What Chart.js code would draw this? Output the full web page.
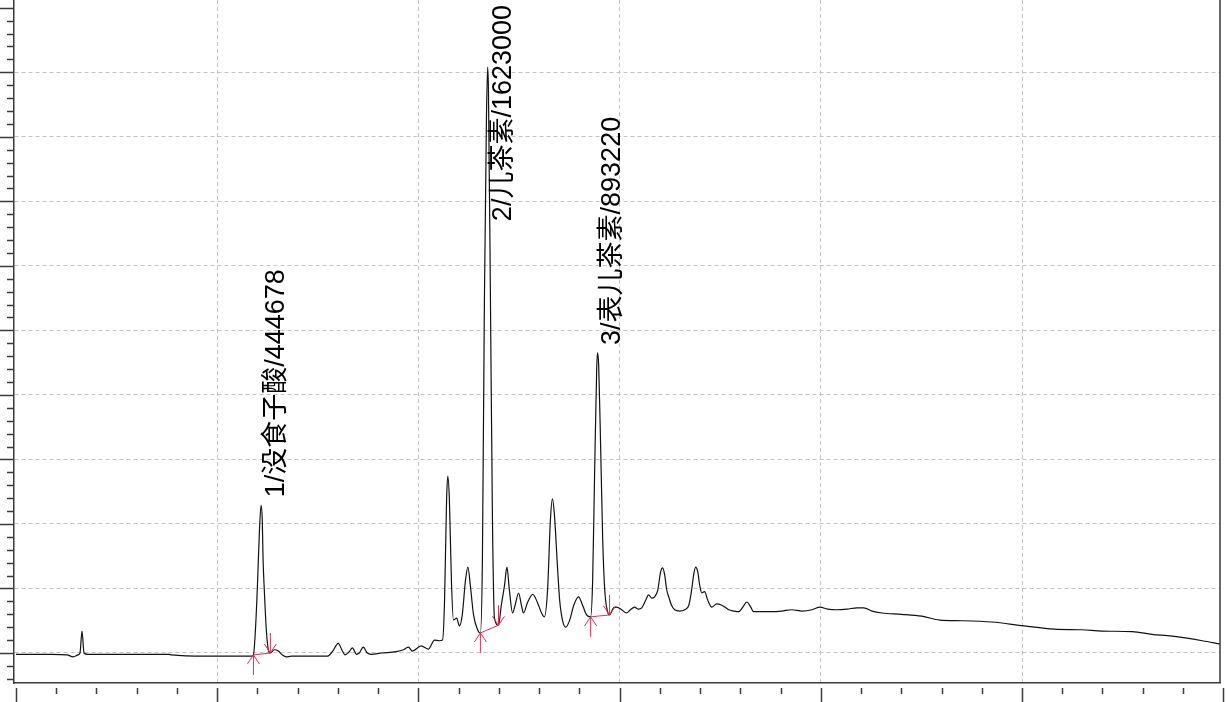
<!DOCTYPE html>
<html>
<head>
<meta charset="utf-8">
<script src="https://cdn.jsdelivr.net/npm/chart.js@4.4.0/dist/chart.umd.min.js"></script>
<style>
    html, body { margin: 0; padding: 0; background: #fff; }
</style>
</head>
<body>
<canvas id="chromatogram" width="1226" height="702"></canvas>
<script>
// --- Data (time in min, signal in detector units) ---
const retentionTimes = [
    0, 0.87, 1.27, 1.42, 1.54, 1.59, 1.64, 1.69, 1.77, 2.61, 3.81, 3.86, 4.73, 5.85,
    5.90, 5.95, 6.00, 6.05, 6.09, 6.12, 6.14, 6.17, 6.22, 6.27, 6.32, 6.42, 6.52, 6.62, 6.72, 6.84, 7.74,
    7.86, 8.01, 8.11, 8.18, 8.28, 8.36, 8.46, 8.53, 8.63, 8.73, 8.83, 9.08, 9.45, 9.63, 9.75, 9.85, 10.07, 10.25, 10.40, 10.52, 10.60,
    10.65, 10.70, 10.73, 10.77, 10.82, 10.87, 10.95, 11.02, 11.09, 11.17, 11.23, 11.29, 11.37, 11.47, 11.54,
    11.59, 11.64, 11.69, 11.72, 11.74, 11.79, 11.84, 11.89, 11.99, 12.06, 12.14, 12.20, 12.26, 12.34, 12.41, 12.49, 12.56, 12.61,
    12.71, 12.84, 12.96, 13.06, 13.13, 13.21, 13.28, 13.33, 13.38, 13.46, 13.51, 13.58, 13.66, 13.76, 13.86, 13.98, 14.08, 14.18, 14.28,
    14.33, 14.38, 14.43, 14.45, 14.48, 14.53, 14.58, 14.63, 14.70, 14.75, 14.85, 14.93, 15.05, 15.17, 15.27, 15.37, 15.47, 15.55,
    15.65, 15.72, 15.80, 15.87, 15.95, 16.02, 16.07, 16.12, 16.17, 16.22, 16.29, 16.37, 16.49, 16.62, 16.72, 16.79, 16.84, 16.89,
    16.94, 16.99, 17.04, 17.11, 17.19, 17.29, 17.41, 17.54, 17.64, 17.71, 17.84, 17.96, 18.06, 18.16, 18.26, 18.33, 18.53, 18.78,
    19.03, 19.28, 19.53, 19.78, 19.98, 20.17, 20.40, 20.65, 20.90, 21.07, 21.27, 21.52, 22.01, 22.51, 22.96, 23.51, 24.25, 25.05,
    25.80, 26.49, 26.99, 27.74, 28.23, 28.73, 29.48, 29.92
];
const signal = [
    -2, -2, -3, -6, -3, 0, 34, 0, -2, -2, -2, -3, -5, -5,
    -3, 36, 105, 191, 229, 205, 144, 98, 36, 5, 0, 5, 3, -3, -6, -5, -5,
    2, 15, 3, -3, 2, 8, -2, 0, 9, 0, -2, 0, 2, 5, 9, 3, 11, 6, 20, 19, 20,
    82, 237, 274, 237, 113, 51, 54, 42, 59, 113, 133, 105, 59, 36, 31,
    144, 547, 826, 908, 873, 547, 206, 54, 43, 74, 105, 133, 98, 62, 76, 93, 74, 62,
    78, 91, 78, 62, 56, 98, 206, 239, 214, 129, 82, 51, 40, 51, 74, 87, 74, 59, 56,
    113, 284, 439, 465, 446, 315, 175, 98, 64, 59, 70, 71, 67, 62, 67, 71, 68, 70,
    82, 90, 85, 87, 98, 126, 132, 121, 98, 87, 74, 67, 65, 67, 74, 98, 121, 133,
    126, 105, 93, 95, 82, 71, 76, 74, 70, 67, 65, 64, 71, 79, 71, 64, 64, 64,
    65, 67, 65, 67, 71, 68, 67, 68, 70, 70, 65, 62, 60, 57, 51, 50, 48, 42,
    37, 36, 34, 33, 29, 26, 19, 14
];

// integrated peaks
const peakLabels = ['1/没食子酸/444678', '2/儿茶素/1623000', '3/表儿茶素/893220'];
const peakApexTimes = [6.09, 11.72, 14.45];
const peakStartTimes = [5.90, 11.54, 14.28];
const peakEndTimes = [6.32, 11.99, 14.75];

// axis ranges / tick steps
const timeMin = -0.05, timeMax = 29.92, timeTickEnd = 30;
const signalMin = -46.5, signalMax = 1012;
const xMajorStep = 5, xMinorStep = 1;
const yMajorStep = 100, yMinorStep = 20;

const AXIS_COLOR = '#3a3a3a';
const GRID_COLOR = '#c4c4c4';
const MARK_COLOR = '#d8304e';

function signalAt(t) {
    const i = retentionTimes.indexOf(t);
    return signal[i];
}

function isMultiple(v, step) {
    const r = Math.abs(v / step - Math.round(v / step));
    return r < 1e-6;
}

// --- tick marks outside the plot (major + minor) and right frame ---
const axisTicks = {
    id: 'axisTicks',
    afterDraw(chart) {
        const { ctx, chartArea: a, scales } = chart;
        ctx.save();
        ctx.strokeStyle = AXIS_COLOR;
        ctx.lineWidth = 1.5;
        ctx.beginPath();
        for (let t = 0; t <= timeTickEnd + 1e-9; t += xMinorStep) {
            const px = Math.round(scales.x.getPixelForValue(t)) + 0.5;
            const major = isMultiple(t, xMajorStep);
            ctx.moveTo(px, a.bottom + 5);
            ctx.lineTo(px, a.bottom + (major ? 19 : 11));
        }
        const first = Math.ceil(signalMin / yMinorStep) * yMinorStep;
        for (let v = first; v <= signalMax; v += yMinorStep) {
            const py = Math.round(scales.y.getPixelForValue(v)) + 0.5;
            const major = isMultiple(v, yMajorStep);
            ctx.moveTo(a.left - (major ? 14 : 7), py);
            ctx.lineTo(a.left, py);
        }
        // right frame
        ctx.moveTo(a.right, a.top);
        ctx.lineTo(a.right, a.bottom);
        ctx.stroke();
        ctx.restore();
    }
};

// --- integration marks and peak names ---
const peakMarks = {
    id: 'peakMarks',
    afterDatasetsDraw(chart) {
        const { ctx, chartArea: a, scales } = chart;
        const x = scales.x, y = scales.y;
        ctx.save();
        ctx.strokeStyle = MARK_COLOR;
        ctx.lineWidth = 1;
        peakStartTimes.forEach((ts, i) => {
            const te = peakEndTimes[i];
            const sx = x.getPixelForValue(ts), sy = y.getPixelForValue(signalAt(ts));
            const ex = x.getPixelForValue(te), ey = y.getPixelForValue(signalAt(te));
            ctx.beginPath();
            // baseline drop
            ctx.moveTo(sx, sy); ctx.lineTo(ex, ey);
            // start: arrow pointing up from below
            ctx.moveTo(sx, sy); ctx.lineTo(sx, sy + 20);
            ctx.moveTo(sx, sy); ctx.lineTo(sx - 6, sy + 9);
            ctx.moveTo(sx, sy); ctx.lineTo(sx + 6, sy + 9);
            // end: arrow pointing down from above
            ctx.moveTo(ex, ey); ctx.lineTo(ex, ey - 20);
            ctx.moveTo(ex, ey); ctx.lineTo(ex - 6, ey - 9);
            ctx.moveTo(ex, ey); ctx.lineTo(ex + 6, ey - 9);
            ctx.stroke();
        });

        ctx.fillStyle = '#000';
        ctx.font = '27px "Liberation Sans", Arial, "Noto Sans CJK SC", sans-serif';
        ctx.textAlign = 'left';
        ctx.textBaseline = 'top';
        peakLabels.forEach((label, i) => {
            const t = peakApexTimes[i];
            const px = x.getPixelForValue(t);
            const py = y.getPixelForValue(signalAt(t));
            const w = ctx.measureText(label).width;
            const start = Math.max(py - 8, a.top + 5 + w);
            ctx.save();
            ctx.translate(px + 2, start);
            ctx.rotate(-Math.PI / 2);
            ctx.fillText(label, 0, 0);
            ctx.restore();
        });
        ctx.restore();
    }
};

const points = retentionTimes.map((t, i) => ({ x: t, y: signal[i] }));

new Chart(document.getElementById('chromatogram'), {
    type: 'line',
    data: {
        datasets: [{
            data: points,
            borderColor: '#111',
            borderWidth: 1.2,
            pointRadius: 0,
            cubicInterpolationMode: 'monotone',
            fill: false
        }]
    },
    options: {
        responsive: false,
        animation: false,
        devicePixelRatio: 1,
        layout: { padding: { left: 14, right: 6, top: 0, bottom: 19 } },
        plugins: { legend: { display: false }, tooltip: { enabled: false } },
        scales: {
            x: {
                type: 'linear',
                min: timeMin,
                max: timeMax,
                ticks: { display: false, stepSize: xMajorStep },
                grid: {
                    drawTicks: false,
                    lineWidth: 1,
                    color: (c) => (c.tick && isMultiple(c.tick.value, xMajorStep)) ? GRID_COLOR : 'rgba(0,0,0,0)'
                },
                border: { display: true, color: AXIS_COLOR, width: 1.5, dash: [4, 3] }
            },
            y: {
                type: 'linear',
                min: signalMin,
                max: signalMax,
                ticks: { display: false, stepSize: yMajorStep },
                grid: {
                    drawTicks: false,
                    lineWidth: 1,
                    color: (c) => (c.tick && isMultiple(c.tick.value, yMajorStep)) ? GRID_COLOR : 'rgba(0,0,0,0)'
                },
                border: { display: true, color: AXIS_COLOR, width: 1.5, dash: [4, 3] }
            }
        }
    },
    plugins: [axisTicks, peakMarks]
});
</script>
</body>
</html>
